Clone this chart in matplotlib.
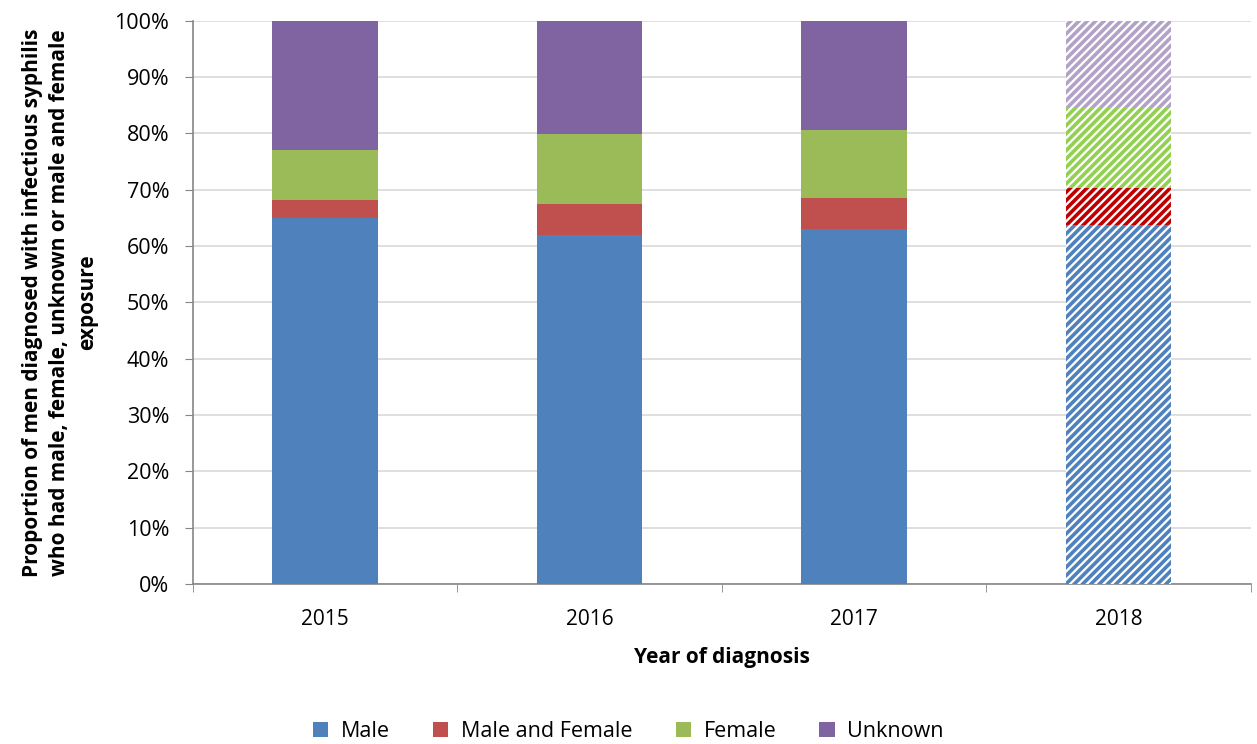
import matplotlib
matplotlib.use('Agg')
import matplotlib.pyplot as plt
from matplotlib.patches import Patch
import numpy as np

plt.rcParams['font.family'] = ['Open Sans', 'DejaVu Sans']

years = ['2015', '2016', '2017', '2018']
male = [65.0, 62.0, 63.1, 63.8]
male_female = [3.2, 5.5, 5.5, 6.5]
female = [8.9, 12.4, 12.0, 14.4]
unknown = [22.9, 20.1, 19.4, 15.3]

series = [('Male', male, '#4F81BD', '#4F81BD'),
          ('Male and Female', male_female, '#C0504D', '#C00000'),
          ('Female', female, '#9BBB59', '#92D050'),
          ('Unknown', unknown, '#8064A2', '#B3A2C7')]

plt.rcParams['hatch.linewidth'] = 2.6

fig = plt.figure(figsize=(12.57, 7.44), dpi=100)
ax = fig.add_axes([0.1535, 0.215, 0.8415, 0.757])

x = np.arange(len(years))
bottom = np.zeros(len(years))
w = 0.4
for name, vals, col, hcol in series:
    vals = np.array(vals)
    # solid bars for first three years
    ax.bar(x[:3], vals[:3], w, bottom=bottom[:3], color=col, zorder=3)
    # last year hatched (provisional)
    ax.bar(x[3], vals[3], w, bottom=bottom[3], facecolor='white',
           edgecolor=hcol, hatch='////', linewidth=0, zorder=3)
    bottom += vals

ax.set_xlim(-0.5, 3.5)
ax.set_ylim(0, 100)
ax.set_yticks(np.arange(0, 101, 10))
ax.set_yticklabels(['{}%'.format(v) for v in range(0, 101, 10)], fontsize=15.5)
ax.set_xticks(x)
ax.set_xticklabels(years, fontsize=15)
ax.set_xticks(np.arange(-0.5, 3.6, 1), minor=True)
ax.tick_params(axis='x', which='major', length=0, pad=18)
ax.tick_params(axis='x', which='minor', length=6, color='#868686')
ax.tick_params(axis='y', length=6, color='#868686', pad=11)
ax.yaxis.grid(True, color='#D9D9D9', lw=1.2, zorder=0)
for s in ['top', 'right']:
    ax.spines[s].set_visible(False)
for s in ['left', 'bottom']:
    ax.spines[s].set_color('#868686')
    ax.spines[s].set_linewidth(1.2)

ax.set_xlabel('Year of diagnosis', fontsize=15, fontweight='bold', labelpad=12)
ax.set_ylabel('Proportion of men diagnosed with infectious syphilis\n'
              'who had male, female, unknown or male and female\nexposure',
              fontsize=15, fontweight='bold', labelpad=12, linespacing=1.4)

handles = [Patch(facecolor=c, label=n) for n, v, c, h in series]
fig.legend(handles=handles, loc='lower center', ncol=4, frameon=False,
           fontsize=15.5, bbox_to_anchor=(0.5, -0.024), handlelength=0.7,
           handleheight=0.7, columnspacing=2.0, handletextpad=0.6)

fig.savefig('out.png', dpi=100)
